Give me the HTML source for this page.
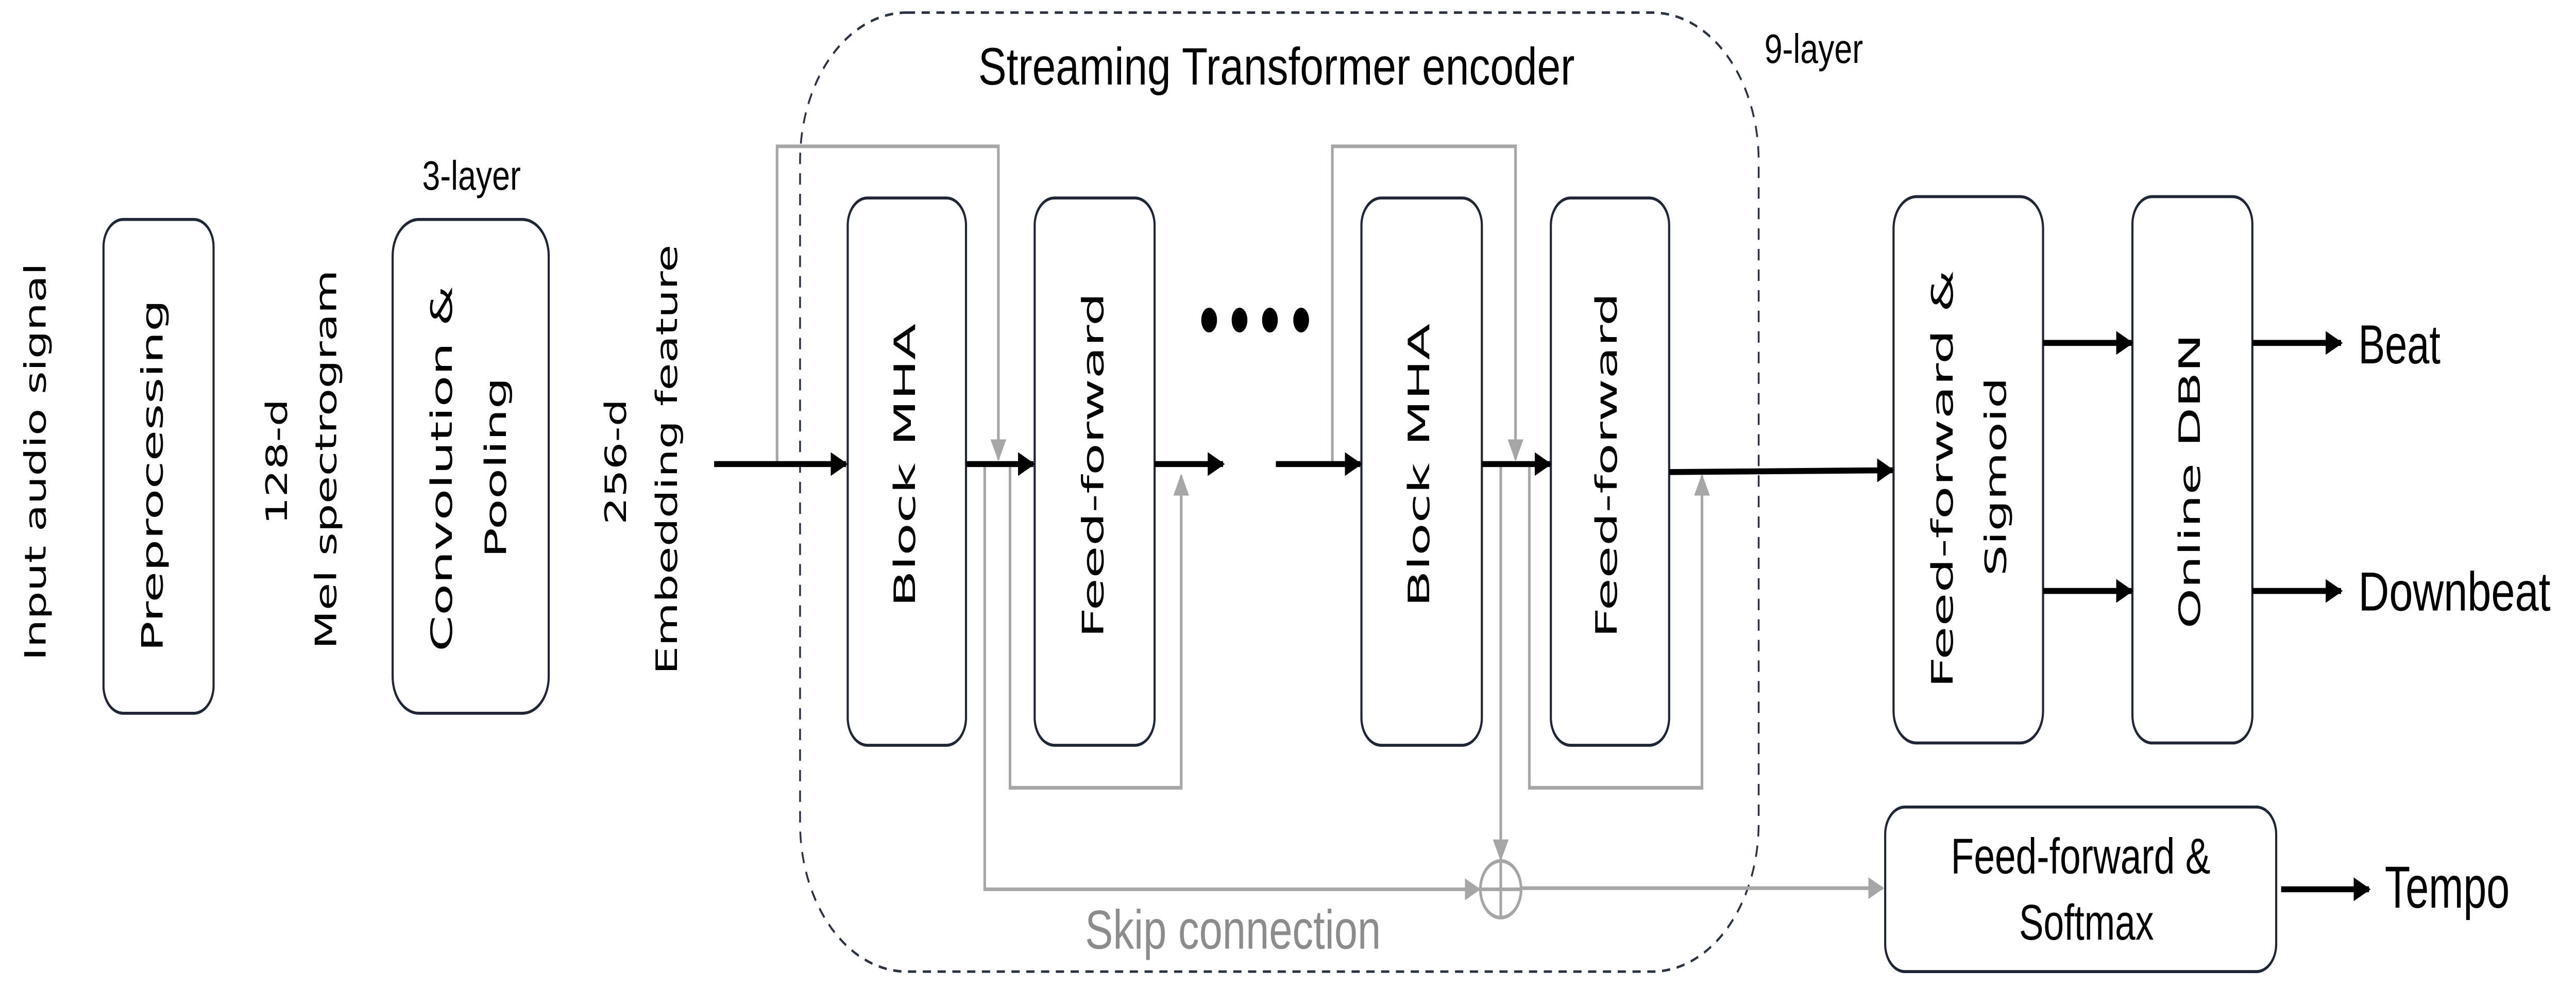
<!DOCTYPE html>
<html><head><meta charset="utf-8"><style>
html,body{margin:0;padding:0;background:#fff;width:100%;height:100%;overflow:hidden;}
svg{display:block;width:100vw;height:100vh;}
.v{font-family:"DejaVu Sans","Liberation Sans",sans-serif;font-size:18px;fill:#000;}
.h{font-family:"Liberation Sans Narrow","Liberation Sans",sans-serif;fill:#000;}
</style></head><body>
<svg viewBox="0 0 1568 431.3" preserveAspectRatio="none" xmlns="http://www.w3.org/2000/svg">
<defs>
<marker id="ab" markerWidth="4" markerHeight="4" refX="3.6" refY="2" orient="auto" markerUnits="strokeWidth"><path d="M0,0 L4,2 L0,4 z" fill="#000"/></marker>
<marker id="ag" markerWidth="6" markerHeight="6" refX="5.5" refY="3" orient="auto" markerUnits="strokeWidth"><path d="M0,0 L6,3 L0,6 z" fill="#a6a6a6"/></marker>
</defs>
<rect width="1568" height="431.3" fill="#fff"/>
<rect x="487" y="5.5" width="583.5" height="419.5" rx="65" ry="65" fill="none" stroke="#2b3342" stroke-width="1.1" stroke-dasharray="5,4"/>
<text class="h" x="777" y="37" font-size="23" text-anchor="middle" textLength="363" lengthAdjust="spacingAndGlyphs">Streaming Transformer encoder</text>
<text class="h" x="1074" y="27.5" font-size="18" textLength="60" lengthAdjust="spacingAndGlyphs">9-layer</text>
<text class="h" x="287" y="83" font-size="18" text-anchor="middle" textLength="60" lengthAdjust="spacingAndGlyphs">3-layer</text>

<g fill="#fff" stroke="#1f2736" stroke-width="1.3">
<rect x="63" y="96" width="67" height="216" rx="12"/>
<rect x="239" y="96" width="95" height="216" rx="16" />
<rect x="516" y="86.6" width="72" height="239.4" rx="12"/>
<rect x="629.8" y="86.6" width="73" height="239.4" rx="12"/>
<rect x="828.7" y="86.6" width="73.3" height="239.4" rx="12"/>
<rect x="944" y="86.6" width="72" height="239.4" rx="12"/>
<rect x="1152.6" y="86" width="91" height="239" rx="14"/>
<rect x="1298" y="86" width="73" height="239" rx="12"/>
<rect x="1147.5" y="353" width="238" height="72" rx="12"/>
</g>

<g class="v">
<text transform="translate(27.7,202) rotate(-90)" text-anchor="middle" textLength="174" lengthAdjust="spacingAndGlyphs">Input audio signal</text>
<text transform="translate(99,208) rotate(-90)" text-anchor="middle" textLength="154" lengthAdjust="spacingAndGlyphs">Preprocessing</text>
<text transform="translate(174.7,202) rotate(-90)" text-anchor="middle" textLength="55" lengthAdjust="spacingAndGlyphs">128-d</text>
<text transform="translate(204.7,201) rotate(-90)" text-anchor="middle" textLength="166" lengthAdjust="spacingAndGlyphs">Mel spectrogram</text>
<text transform="translate(275,205) rotate(-90)" text-anchor="middle" textLength="160" lengthAdjust="spacingAndGlyphs">Convolution &amp;</text>
<text transform="translate(308,204.5) rotate(-90)" text-anchor="middle" textLength="79" lengthAdjust="spacingAndGlyphs">Pooling</text>
<text transform="translate(381,202) rotate(-90)" text-anchor="middle" textLength="55" lengthAdjust="spacingAndGlyphs">256-d</text>
<text transform="translate(412,201) rotate(-90)" text-anchor="middle" textLength="188" lengthAdjust="spacingAndGlyphs">Embedding feature</text>
<text transform="translate(557,203.5) rotate(-90)" text-anchor="middle" textLength="124" lengthAdjust="spacingAndGlyphs">Block MHA</text>
<text transform="translate(671.5,203.5) rotate(-90)" text-anchor="middle" textLength="151" lengthAdjust="spacingAndGlyphs">Feed-forward</text>
<text transform="translate(870,203.5) rotate(-90)" text-anchor="middle" textLength="124" lengthAdjust="spacingAndGlyphs">Block MHA</text>
<text transform="translate(984,203.5) rotate(-90)" text-anchor="middle" textLength="151" lengthAdjust="spacingAndGlyphs">Feed-forward</text>
<text transform="translate(1188.5,209.5) rotate(-90)" text-anchor="middle" textLength="183" lengthAdjust="spacingAndGlyphs">Feed-forward &amp;</text>
<text transform="translate(1221,208.5) rotate(-90)" text-anchor="middle" textLength="87" lengthAdjust="spacingAndGlyphs">Sigmoid</text>
<text transform="translate(1339,210.5) rotate(-90)" text-anchor="middle" textLength="129" lengthAdjust="spacingAndGlyphs">Online DBN</text>
</g>

<g fill="none" stroke="#a6a6a6" stroke-width="1.6">
<polyline points="473,203 473,64 607.7,64 607.7,201" marker-end="url(#ag)"/>
<polyline points="614.8,203 614.8,344.6 719,344.6 719,208" marker-end="url(#ag)"/>
<polyline points="599.4,203 599.4,389 900.5,389" marker-end="url(#ag)"/>
<polyline points="811,203 811,64 922.5,64 922.5,201" marker-end="url(#ag)"/>
<polyline points="930.9,203 930.9,344.6 1036,344.6 1036,208" marker-end="url(#ag)"/>
<polyline points="913.5,203 913.5,376" marker-end="url(#ag)"/>
<polyline points="926.6,388.5 1146,388.5" marker-end="url(#ag)"/>
<circle cx="913.5" cy="389" r="12.4"/>
<line x1="901.1" y1="389" x2="925.9" y2="389"/>
<line x1="913.5" y1="376.6" x2="913.5" y2="401.4"/>
</g>
<text class="h" x="750.5" y="415" font-size="24" style="fill:#8c8c8c" text-anchor="middle" textLength="180" lengthAdjust="spacingAndGlyphs">Skip connection</text>

<g stroke="#000" stroke-width="2.6" fill="none">
<line x1="434.7" y1="203" x2="515" y2="203" marker-end="url(#ab)"/>
<line x1="588" y1="203" x2="629" y2="203" marker-end="url(#ab)"/>
<line x1="702.8" y1="203" x2="744.5" y2="203" marker-end="url(#ab)"/>
<line x1="776.6" y1="203" x2="828" y2="203" marker-end="url(#ab)"/>
<line x1="902" y1="203" x2="943.5" y2="203" marker-end="url(#ab)"/>
<line x1="1016" y1="206.5" x2="1152" y2="205.7" marker-end="url(#ab)"/>
<line x1="1243.6" y1="150" x2="1297.5" y2="150" marker-end="url(#ab)"/>
<line x1="1243.6" y1="258.5" x2="1297.5" y2="258.5" marker-end="url(#ab)"/>
<line x1="1371" y1="150" x2="1425" y2="150" marker-end="url(#ab)"/>
<line x1="1371" y1="258.5" x2="1425" y2="258.5" marker-end="url(#ab)"/>
<line x1="1388.5" y1="389" x2="1442" y2="389" marker-end="url(#ab)"/>
</g>
<g fill="#000">
<ellipse cx="736" cy="140" rx="4.8" ry="5.4"/>
<ellipse cx="754.5" cy="140" rx="4.8" ry="5.4"/>
<ellipse cx="773" cy="140" rx="4.8" ry="5.4"/>
<ellipse cx="792" cy="140" rx="4.8" ry="5.4"/>
</g>

<text class="h" x="1435.5" y="159" font-size="24" textLength="50" lengthAdjust="spacingAndGlyphs">Beat</text>
<text class="h" x="1435.5" y="267" font-size="24" textLength="117" lengthAdjust="spacingAndGlyphs">Downbeat</text>
<text class="h" x="1266.5" y="382" font-size="22" text-anchor="middle" textLength="158" lengthAdjust="spacingAndGlyphs">Feed-forward &amp;</text>
<text class="h" x="1270" y="411" font-size="22" text-anchor="middle" textLength="82" lengthAdjust="spacingAndGlyphs">Softmax</text>
<text class="h" x="1451.6" y="397" font-size="26" textLength="76" lengthAdjust="spacingAndGlyphs">Tempo</text>
</svg>
</body></html>
